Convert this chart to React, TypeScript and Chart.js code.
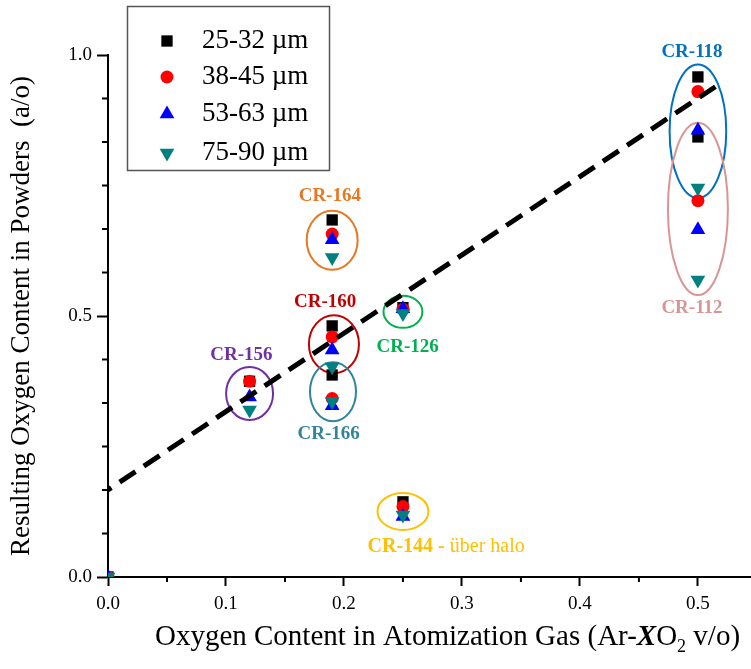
import React, { useEffect, useRef } from 'react';
import { Chart, registerables } from 'chart.js';
import { drawPoint } from 'chart.js/helpers';

Chart.register(...registerables);

// ---- data ----
const sizeClasses = ['25-32 µm', '38-45 µm', '53-63 µm', '75-90 µm'];
const runNames = ['origin', 'CR-156', 'CR-164', 'CR-160', 'CR-166', 'CR-126', 'CR-144', 'CR-118', 'CR-112'];
const gasOxygen = [0, 0.12, 0.19, 0.19, 0.19, 0.25, 0.25, 0.5, 0.5];
const powder25to32 = [0, 0.375, 0.684, 0.481, 0.387, 0.516, 0.144, 0.958, 0.843];
const powder38to45 = [0, 0.375, 0.657, 0.46, 0.342, 0.513, 0.135, 0.93, 0.721];
const powder53to63 = [0, 0.345, 0.646, 0.435, 0.328, 0.514, 0.116, 0.856, 0.665];
const powder75to90 = [0, 0.32, 0.612, 0.403, 0.336, 0.505, 0.119, 0.745, 0.569];

const trendGas = [0, 0.52];
const trendPowder = [0.167, 0.947];

const xMinorTicks = [0.05, 0.15, 0.25, 0.35, 0.45];
const yMinorTicks = [0.0833, 0.1667, 0.25, 0.3333, 0.4167, 0.5833, 0.6667, 0.75, 0.8333, 0.9167];

// run groupings (ellipses) in data units
const groupNames = ['CR-118', 'CR-112', 'CR-164', 'CR-160', 'CR-166', 'CR-126', 'CR-156', 'CR-144'];
const groupColors = ['#0070c0', '#d99594', '#e87722', '#c00000', '#31849b', '#00b050', '#7030a0', '#ffc000'];
const groupCx = [0.5, 0.5, 0.19, 0.1915, 0.1907, 0.25, 0.12, 0.25];
const groupCy = [0.854, 0.705, 0.645, 0.446, 0.355, 0.508, 0.3515, 0.1255];
const groupRx = [0.024, 0.0254, 0.0216, 0.0212, 0.0195, 0.0165, 0.0199, 0.0216];
const groupRy = [0.128, 0.165, 0.0565, 0.0556, 0.0565, 0.0307, 0.0508, 0.0354];
const groupLabelX = [0.495, 0.495, 0.188, 0.184, 0.187, 0.254, 0.113, 0.22];
const groupLabelY = [1.006, 0.515, 0.73, 0.527, 0.274, 0.441, 0.425, 0.0575];

const SERIF = '"Liberation Serif", "DejaVu Serif", serif';

const pts = (ys: number[]) => gasOxygen.map((x, i) => ({ x, y: ys[i] }));

const groupsPlugin = {
  id: 'groups',
  beforeDatasetsDraw(chart: any) {
    const { ctx } = chart;
    const xs = chart.scales.x;
    const ys = chart.scales.y;
    ctx.save();
    groupNames.forEach((_, i) => {
      const cx = xs.getPixelForValue(groupCx[i]);
      const cy = ys.getPixelForValue(groupCy[i]);
      const rx = Math.abs(xs.getPixelForValue(groupCx[i] + groupRx[i]) - cx);
      const ry = Math.abs(ys.getPixelForValue(groupCy[i] + groupRy[i]) - cy);
      ctx.beginPath();
      ctx.ellipse(cx, cy, rx, ry, 0, 0, Math.PI * 2);
      ctx.strokeStyle = groupColors[i];
      ctx.lineWidth = 2;
      ctx.stroke();
    });
    ctx.restore();
  },
  afterDraw(chart: any) {
    const { ctx } = chart;
    const xs = chart.scales.x;
    const ys = chart.scales.y;
    ctx.save();
    ctx.textBaseline = 'middle';
    groupNames.forEach((name, i) => {
      const lx = xs.getPixelForValue(groupLabelX[i]);
      const ly = ys.getPixelForValue(groupLabelY[i]);
      ctx.fillStyle = groupColors[i];
      if (name === 'CR-144') {
        ctx.textAlign = 'left';
        ctx.font = 'bold 20px ' + SERIF;
        const a = 'CR-144 -';
        ctx.fillText(a, lx, ly);
        const w = ctx.measureText(a).width;
        ctx.font = '20px ' + SERIF;
        ctx.fillText(' über halo', lx + w, ly);
      } else {
        ctx.textAlign = 'center';
        ctx.font = 'bold 19px ' + SERIF;
        ctx.fillText(name, lx, ly);
      }
    });

    // minor ticks
    const area = chart.chartArea;
    ctx.strokeStyle = '#000';
    ctx.lineWidth = 2;
    xMinorTicks.forEach((v) => {
      const px = xs.getPixelForValue(v);
      ctx.beginPath();
      ctx.moveTo(px, area.bottom);
      ctx.lineTo(px, area.bottom + 5);
      ctx.stroke();
    });
    yMinorTicks.forEach((v) => {
      const py = ys.getPixelForValue(v);
      ctx.beginPath();
      ctx.moveTo(area.left, py);
      ctx.lineTo(area.left - 6, py);
      ctx.stroke();
    });

    // x axis title with bold X and subscript 2
    const parts = [
      { t: 'Oxygen Content in Atomization Gas (Ar-', f: '29px ' + SERIF, dy: 0 },
      { t: 'X', f: 'italic bold 29px ' + SERIF, dy: 0 },
      { t: 'O', f: '29px ' + SERIF, dy: 0 },
      { t: '2', f: '18px ' + SERIF, dy: 7 },
      { t: ' v/o)', f: '29px ' + SERIF, dy: 0 },
    ];
    let total = 0;
    parts.forEach((p) => {
      ctx.font = p.f;
      total += ctx.measureText(p.t).width;
    });
    let x = 447.5 - total / 2;
    const base = 645;
    ctx.fillStyle = '#000';
    ctx.textAlign = 'left';
    ctx.textBaseline = 'alphabetic';
    parts.forEach((p) => {
      ctx.font = p.f;
      ctx.fillText(p.t, x, base + p.dy);
      x += ctx.measureText(p.t).width;
    });

    // legend
    ctx.fillStyle = '#fff';
    ctx.fillRect(127, 6, 203, 165);
    ctx.strokeStyle = '#555';
    ctx.lineWidth = 1.5;
    ctx.strokeRect(127.5, 6.5, 202, 164);
    const rows = [41, 77, 114, 153];
    chart.data.datasets.slice(0, 4).forEach((ds: any, i: number) => {
      ctx.fillStyle = ds.backgroundColor;
      ctx.strokeStyle = ds.borderColor;
      drawPoint(ctx, { pointStyle: ds.pointStyle, rotation: ds.rotation || 0, radius: ds.pointRadius, borderWidth: 0 } as any, 167, rows[i]);
      ctx.fillStyle = '#000';
      ctx.font = '27px ' + SERIF;
      ctx.textAlign = 'left';
      ctx.textBaseline = 'middle';
      ctx.fillText(ds.label, 202, rows[i]);
    });
    ctx.restore();
  },
};

export default function App() {
  const ref = useRef<HTMLCanvasElement | null>(null);
  useEffect(() => {
    if (!ref.current) return;
    const chart = new Chart(ref.current, {
      type: 'scatter',
      data: {
        datasets: [
          { label: sizeClasses[0], data: pts(powder25to32), pointStyle: 'rect', pointRadius: 8, backgroundColor: '#000000', borderColor: '#000000', borderWidth: 0, order: 4 } as any,
          { label: sizeClasses[1], data: pts(powder38to45), pointStyle: 'circle', pointRadius: 6.5, backgroundColor: '#ff0000', borderColor: '#ff0000', borderWidth: 0, order: 3 },
          { label: sizeClasses[2], data: pts(powder53to63), pointStyle: 'triangle', pointRadius: 8.5, backgroundColor: '#0000ff', borderColor: '#0000ff', borderWidth: 0, order: 2 },
          { label: sizeClasses[3], data: pts(powder75to90), pointStyle: 'triangle', rotation: 180, pointRadius: 8.5, backgroundColor: '#008080', borderColor: '#008080', borderWidth: 0, order: 1 },
          {
            label: 'trend',
            data: trendGas.map((x, i) => ({ x, y: trendPowder[i] })),
            showLine: true,
            pointRadius: 0,
            borderColor: '#000000',
            borderWidth: 5,
            borderDash: [19, 10],
            borderDashOffset: 15,
            order: 0,
          } as any,
        ],
      },
      options: {
        responsive: false,
        animation: false,
        layout: { autoPadding: false, padding: { top: 55, right: 0, bottom: 0, left: 0 } },
        plugins: { legend: { display: false }, tooltip: { enabled: false } },
        scales: {
          x: {
            type: 'linear',
            min: 0,
            max: 0.545,
            afterFit: (s: any) => { s.height = 92; },
            border: { display: true, color: '#000', width: 2 },
            grid: { drawOnChartArea: false, drawTicks: true, tickLength: 9, tickWidth: 2, tickColor: '#000' },
            ticks: {
              stepSize: 0.1,
              includeBounds: false,
              padding: 7,
              color: '#000',
              font: { family: SERIF, size: 19 },
              callback: (v: any) => Number(v).toFixed(1),
              maxRotation: 0,
            },
          },
          y: {
            type: 'linear',
            min: 0,
            max: 1,
            afterFit: (s: any) => { s.width = 108; },
            border: { display: true, color: '#000', width: 2 },
            grid: { drawOnChartArea: false, drawTicks: true, tickLength: 11, tickWidth: 2, tickColor: '#000' },
            ticks: {
              stepSize: 0.5,
              padding: 5,
              color: '#000',
              font: { family: SERIF, size: 19 },
              callback: (v: any) => Number(v).toFixed(1),
            },
            title: {
              display: true,
              text: 'Resulting Oxygen Content in Powders  (a/o)',
              color: '#000',
              font: { family: SERIF, size: 27 },
              padding: { top: 6, bottom: 0 },
            },
          },
        },
      },
      plugins: [groupsPlugin],
    });
    return () => chart.destroy();
  }, []);
  return (
    <div style={{ position: 'absolute', left: 0, top: 0, width: 751, height: 669, background: '#fff' }}>
      <canvas ref={ref} width={751} height={669} style={{ display: 'block' }} />
    </div>
  );
}
